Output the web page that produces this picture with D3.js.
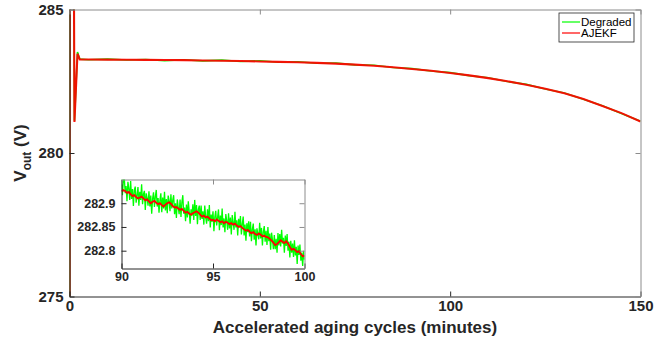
<!DOCTYPE html>
<html>
<head>
<meta charset="utf-8">
<script src="https://cdn.jsdelivr.net/npm/d3@7"></script>
<style>
  html, body { margin: 0; padding: 0; background: #fff; }
  svg { display: block; font-family: "Liberation Sans", Arial, sans-serif; }
  .tick text { font-weight: bold; fill: #262626; }
</style>
</head>
<body>
<div id="chart"></div>
<script>
// ============================================================
//  data
// ============================================================
// main plot: time (minutes) / voltage (V)
const mainTimes = [0, 0.2, 1.3, 2.1, 2.7, 5, 10, 15, 20, 25, 30, 35, 40, 45, 50, 55, 60, 65, 70, 75,
                   80, 85, 90, 95, 100, 105, 110, 115, 120, 125, 130, 135, 140, 145, 150];
const ajekfMain = [268, 320, 281.08, 283.46, 283.26, 283.26, 283.255, 283.25, 283.245, 283.24, 283.235,
                   283.225, 283.215, 283.205, 283.19, 283.175, 283.16, 283.14, 283.115, 283.08, 283.04,
                   282.99, 282.925, 282.865, 282.79, 282.705, 282.61, 282.50, 282.38, 282.24, 282.08,
                   281.88, 281.64, 281.39, 281.10];
const degradedMain = [265, 324, 281.12, 283.52, 283.27, 283.25, 283.27, 283.24, 283.26, 283.22, 283.25,
                      283.21, 283.235, 283.19, 283.215, 283.16, 283.18, 283.125, 283.13, 283.07, 283.055,
                      282.98, 282.94, 282.855, 282.80, 282.695, 282.62, 282.49, 282.39, 282.23, 282.09,
                      281.87, 281.65, 281.38, 281.11];

// inset: 90..100 min
const ajekfInset = [
  282.925, 282.928, 282.926, 282.922, 282.924, 282.919, 282.915, 282.917, 282.913, 282.910,
  282.912, 282.914, 282.910, 282.906, 282.908, 282.904, 282.900, 282.903, 282.905, 282.901,
  282.898, 282.900, 282.896, 282.893, 282.897, 282.900, 282.902, 282.899, 282.894, 282.891,
  282.892, 282.889, 282.886, 282.888, 282.884, 282.880, 282.882, 282.878, 282.876, 282.879,
  282.881, 282.883, 282.880, 282.876, 282.872, 282.874, 282.870, 282.872, 282.868, 282.864,
  282.865, 282.862, 282.866, 282.863, 282.860, 282.862, 282.858, 282.861, 282.859, 282.856,
  282.858, 282.855, 282.857, 282.853, 282.850, 282.852, 282.848, 282.845, 282.842, 282.844,
  282.840, 282.837, 282.839, 282.835, 282.833, 282.836, 282.834, 282.830, 282.832, 282.829,
  282.828, 282.825, 282.821, 282.817, 282.812, 282.814, 282.818, 282.822, 282.819, 282.816,
  282.820, 282.815, 282.808, 282.802, 282.804, 282.801, 282.797, 282.799, 282.793, 282.788,
  282.790];
const degradedInset = [
  282.958, 282.917, 282.946, 282.957, 282.921, 282.936, 282.904, 282.945, 282.932, 282.907,
  282.947, 282.909, 282.930, 282.894, 282.927, 282.935, 282.901, 282.917, 282.934, 282.895,
  282.924, 282.907, 282.940, 282.898, 282.919, 282.926, 282.886, 282.921, 282.911, 282.895,
  282.925, 282.893, 282.916, 282.878, 282.910, 282.923, 282.892, 282.914, 282.928, 282.893,
  282.911, 282.880, 282.906, 282.921, 282.881, 282.912, 282.889, 282.924, 282.885, 282.909,
  282.879, 282.916, 282.906, 282.883, 282.919, 282.889, 282.906, 282.917, 282.877, 282.900,
  282.869, 282.908, 282.891, 282.877, 282.908, 282.871, 282.902, 282.917, 282.878, 282.891,
  282.862, 282.897, 282.870, 282.904, 282.883, 282.857, 282.887, 282.874, 282.898, 282.865,
  282.907, 282.873, 282.896, 282.856, 282.887, 282.895, 282.865, 282.895, 282.867, 282.883,
  282.855, 282.895, 282.871, 282.857, 282.887, 282.862, 282.896, 282.849, 282.876, 282.861,
  282.883, 282.841, 282.871, 282.884, 282.853, 282.870, 282.887, 282.843, 282.874, 282.854,
  282.889, 282.849, 282.868, 282.839, 282.877, 282.863, 282.844, 282.879, 282.847, 282.870,
  282.834, 282.875, 282.860, 282.844, 282.882, 282.849, 282.864, 282.832, 282.867, 282.849,
  282.873, 282.834, 282.856, 282.872, 282.832, 282.855, 282.821, 282.858, 282.839, 282.862,
  282.830, 282.861, 282.820, 282.845, 282.857, 282.823, 282.845, 282.811, 282.847, 282.836,
  282.824, 282.859, 282.826, 282.848, 282.811, 282.840, 282.852, 282.819, 282.842, 282.812,
  282.850, 282.820, 282.836, 282.802, 282.838, 282.823, 282.803, 282.833, 282.803, 282.825,
  282.796, 282.837, 282.811, 282.835, 282.809, 282.844, 282.815, 282.827, 282.796, 282.832,
  282.810, 282.835, 282.800, 282.819, 282.786, 282.821, 282.796, 282.815, 282.787, 282.822,
  282.790, 282.808, 282.772, 282.811, 282.791, 282.813, 282.779, 282.796, 282.768, 282.800,
  282.781];

const xTicks = [0, 50, 100, 150];
const yTicks = [275, 280, 285];
const insetXTicks = [90, 95, 100];
const insetYTicks = [282.8, 282.85, 282.9];
const seriesNames = ["Degraded", "AJEKF"];
const seriesColors = ["#00ff00", "#ff0000"];

// ============================================================
//  layout
// ============================================================
const W = 668, H = 346;
const plot  = { left: 69.5, right: 640.5, top: 9.5, bottom: 296.5 };
const inset = { left: 121.5, right: 304.5, top: 179.5, bottom: 268.5 };
const AXIS_COLOR = "#262626";

const svg = d3.select("#chart").append("svg").attr("width", W).attr("height", H);
const defs = svg.append("defs");

function clip(id, r) {
  defs.append("clipPath").attr("id", id).append("rect")
    .attr("x", r.left).attr("y", r.top)
    .attr("width", r.right - r.left).attr("height", r.bottom - r.top);
}
clip("clip-main", plot);
clip("clip-inset", inset);

// ── axes box helper ──────────────────────────────────────
function drawAxes(g, x, y, r, xT, yT, fontSize, yFmt) {
  const bottom = g.append("g").attr("transform", `translate(0,${r.bottom})`)
    .call(d3.axisBottom(x).tickValues(xT).tickSize(-5).tickSizeOuter(0).tickPadding(4));
  const left = g.append("g").attr("transform", `translate(${r.left},0)`)
    .call(d3.axisLeft(y).tickValues(yT).tickSize(-5).tickSizeOuter(0).tickPadding(6).tickFormat(yFmt));
  const top = g.append("g").attr("transform", `translate(0,${r.top})`)
    .call(d3.axisTop(x).tickValues(xT).tickSize(-5).tickSizeOuter(0).tickFormat(""));
  const right = g.append("g").attr("transform", `translate(${r.right},0)`)
    .call(d3.axisRight(y).tickValues(yT).tickSize(-5).tickSizeOuter(0).tickFormat(""));
  [bottom, left].forEach(a => {
    a.selectAll("path,line").attr("stroke", AXIS_COLOR);
    a.selectAll("text").style("font-size", fontSize + "px");
  });
  [top, right].forEach(a => a.selectAll("path,line").attr("stroke", "#8c8c8c"));
}

// ============================================================
//  main plot
// ============================================================
const x = d3.scaleLinear().domain([0, 150]).range([plot.left, plot.right]);
const y = d3.scaleLinear().domain([275, 285]).range([plot.bottom, plot.top]);

const mainG = svg.append("g");
const mainLines = mainG.append("g").attr("clip-path", "url(#clip-main)");
const mainLine = vals => d3.line().x((d, i) => x(mainTimes[i])).y(d => y(d))(vals);

mainLines.append("path").attr("d", mainLine(degradedMain))
  .attr("fill", "none").attr("stroke", seriesColors[0]).attr("stroke-width", 1.6);
mainLines.append("path").attr("d", mainLine(ajekfMain))
  .attr("fill", "none").attr("stroke", seriesColors[1]).attr("stroke-width", 2.1)
  .attr("stroke-opacity", 0.92);

drawAxes(mainG, x, y, plot, xTicks, yTicks, 15, d => d);

// axis titles
svg.append("text")
  .attr("x", (plot.left + plot.right) / 2).attr("y", 333)
  .attr("text-anchor", "middle").attr("font-weight", "bold").attr("font-size", 17)
  .attr("fill", AXIS_COLOR)
  .text("Accelerated aging cycles (minutes)");

const yl = svg.append("text")
  .attr("transform", `translate(26,${(plot.top + plot.bottom) / 2}) rotate(-90)`)
  .attr("text-anchor", "middle").attr("font-weight", "bold").attr("font-size", 17)
  .attr("fill", AXIS_COLOR);
yl.append("tspan").text("V");
yl.append("tspan").attr("font-size", 12).attr("dy", 5).text("out");
yl.append("tspan").attr("dy", -5).text(" (V)");

// ── legend ───────────────────────────────────────────────
const lg = svg.append("g").attr("transform", "translate(559,13)");
lg.append("rect").attr("width", 75).attr("height", 29)
  .attr("fill", "#fff").attr("stroke", AXIS_COLOR).attr("stroke-width", 0.8);
seriesNames.forEach((name, i) => {
  const ly = 9 + i * 11;
  lg.append("line").attr("x1", 3).attr("x2", 21).attr("y1", ly).attr("y2", ly)
    .attr("stroke", seriesColors[i]).attr("stroke-width", 1.2);
  lg.append("text").attr("x", 22).attr("y", ly + 4)
    .attr("font-size", 11.5).attr("fill", "#000").text(name);
});

// ============================================================
//  inset (90 – 100 min)
// ============================================================
const ix = d3.scaleLinear().domain([90, 100]).range([inset.left, inset.right]);
const iy = d3.scaleLinear().domain([282.7625, 282.95]).range([inset.bottom, inset.top]);

const insetG = svg.append("g");
insetG.append("rect")
  .attr("x", inset.left).attr("y", inset.top)
  .attr("width", inset.right - inset.left).attr("height", inset.bottom - inset.top)
  .attr("fill", "#fff");

const gTimes = d3.range(degradedInset.length).map(i => 90 + i * 10 / (degradedInset.length - 1));
const rTimes = d3.range(ajekfInset.length).map(i => 90 + i * 10 / (ajekfInset.length - 1));

const insetLines = insetG.append("g").attr("clip-path", "url(#clip-inset)");
insetLines.append("path")
  .attr("d", d3.line().x((d, i) => ix(gTimes[i])).y(d => iy(d))(degradedInset))
  .attr("fill", "none").attr("stroke", seriesColors[0]).attr("stroke-width", 1.3);
insetLines.append("path")
  .attr("d", d3.line().x((d, i) => ix(rTimes[i])).y(d => iy(d))(ajekfInset))
  .attr("fill", "none").attr("stroke", seriesColors[1]).attr("stroke-width", 1.8);

drawAxes(insetG, ix, iy, inset, insetXTicks, insetYTicks, 12.5, d => String(d));
</script>
</body>
</html>
